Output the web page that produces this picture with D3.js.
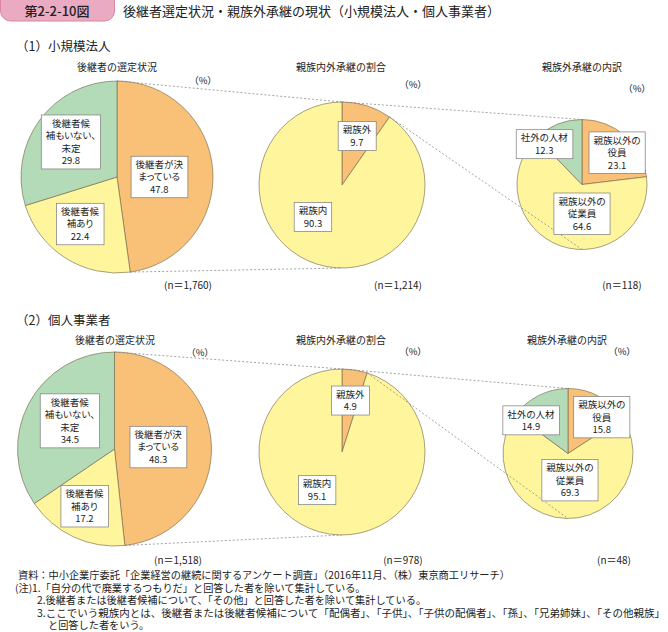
<!DOCTYPE html>
<html><head><meta charset="utf-8">
<script src="https://cdn.jsdelivr.net/npm/d3@7"></script>
<style>
body{margin:0;background:#fff;}
svg{display:block;font-family:"Noto Sans CJK JP","Noto Sans",sans-serif;}
.p{font-feature-settings:"palt";}
</style>
</head><body>
<svg id="c" width="668" height="632"></svg>
<script>
// ---------- data ----------
const figNo = "第2-2-10図";
const figTitle = "後継者選定状況・親族外承継の現状（小規模法人・個人事業者）";
const sections = ["（1）小規模法人", "（2）個人事業者"];
const chartTitles = ["後継者の選定状況", "親族内外承継の割合", "親族外承継の内訳"];

const selCats = ["後継者が決\nまっている", "後継者候\n補あり", "後継者候\n補もいない、\n未定"];
const selSmall = [47.8, 22.4, 29.8];
const selIndiv = [48.3, 17.2, 34.5];

const famCats = ["親族外", "親族内"];
const famSmall = [9.7, 90.3];
const famIndiv = [4.9, 95.1];

const outCats = ["親族以外の\n役員", "親族以外の\n従業員", "社外の人材"];
const outSmall = [23.1, 64.6, 12.3];
const outIndiv = [15.8, 69.3, 14.9];

const nSmall = ["1,760", "1,214", "118"];
const nIndiv = ["1,518", "978", "48"];

const notes = [
  "資料：中小企業庁委託「企業経営の継続に関するアンケート調査」（2016年11月、（株）東京商工リサーチ）",
  "(注)1.「自分の代で廃業するつもりだ」と回答した者を除いて集計している。",
  "2.後継者または後継者候補について、「その他」と回答した者を除いて集計している。",
  "3.ここでいう親族内とは、後継者または後継者候補について「配偶者」、「子供」、「子供の配偶者」、「孫」、「兄弟姉妹」、「その他親族」",
  "と回答した者をいう。"
];

// ---------- styles / layout ----------
const ORANGE = "#f9c078", YELLOW = "#fff59d", GREEN = "#b4dbb7";
const colorSets = [[ORANGE, YELLOW, GREEN], [ORANGE, YELLOW], [ORANGE, YELLOW, GREEN]];

const panels = [
  {
    section: sections[0], secY: 51,
    titleY: 71, titleX: [117, 341, 582],
    pctPos: [[203, 84], [413, 88], [637, 92]],
    nY: 289, nX: [188, 398, 622], n: nSmall,
    pies: [{cx:117, cy:177, r:96}, {cx:342, cy:185, r:83}, {cx:582, cy:184.5, r:65}],
    data: [selSmall, famSmall, outSmall],
    labelPos: [
      [[0.44, 0.0], [-0.385, 0.49], [-0.48, -0.365]],
      [[0.18, -0.59], [-0.35, 0.385]],
      [[0.54, -0.49], [0.0, 0.45], [-0.58, -0.62]]
    ]
  },
  {
    section: sections[1], secY: 325,
    titleY: 344, titleX: [115, 341, 567],
    pctPos: [[200, 356], [413, 355], [622, 355]],
    nY: 564, nX: [178, 403, 614], n: nIndiv,
    pies: [{cx:114.5, cy:449, r:97}, {cx:342, cy:452, r:83}, {cx:568, cy:453.5, r:65}],
    data: [selIndiv, famIndiv, outIndiv],
    labelPos: [
      [[0.45, -0.02], [-0.31, 0.59], [-0.46, -0.29]],
      [[0.1, -0.62], [-0.30, 0.46]],
      [[0.52, -0.56], [0.03, 0.41], [-0.57, -0.51]]
    ]
  }
];
const catSets = [selCats, famCats, outCats];

const svg = d3.select("#c");

// header tab
svg.append("rect").attr("x", 0.5).attr("y", -10).attr("width", 114).attr("height", 31)
  .attr("rx", 10).attr("fill", "#eaaac2").attr("stroke", "#d9869f").attr("stroke-width", 1);
svg.append("text").attr("x", 57).attr("y", 16).attr("text-anchor", "middle")
  .attr("font-size", 13).attr("font-weight", 500).attr("fill", "#222").text(figNo);
svg.append("text").attr("x", 123).attr("y", 16).attr("font-size", 13)
  .attr("fill", "#222").text(figTitle);

const pie = d3.pie().sort(null).value(d => d).startAngle(0).endAngle(2 * Math.PI);
const ptAt = (p, a) => [p.cx + p.r * Math.sin(a), p.cy - p.r * Math.cos(a)];

panels.forEach(pn => {
  svg.append("text").attr("x", 16).attr("y", pn.secY).attr("font-size", 12.5)
    .attr("fill", "#222").text(pn.section);

  const arcsAll = [];
  pn.pies.forEach((p, i) => {
    const g = svg.append("g").attr("transform", `translate(${p.cx},${p.cy})`);
    const arcs = pie(pn.data[i]);
    arcsAll.push(arcs);
    const arc = d3.arc().innerRadius(0).outerRadius(p.r);
    g.selectAll("path").data(arcs).join("path")
      .attr("d", arc).attr("fill", (d, j) => colorSets[i][j])
      .attr("stroke", "#6e6244").attr("stroke-width", 0.6);

    svg.append("text").attr("x", pn.titleX[i]).attr("y", pn.titleY).attr("text-anchor", "middle")
      .attr("font-size", 10).attr("fill", "#222").text(chartTitles[i]);
    svg.append("text").attr("x", pn.pctPos[i][0]).attr("y", pn.pctPos[i][1]).attr("text-anchor", "middle")
      .attr("font-size", 9.5).attr("fill", "#222").text("（%）");
    svg.append("text").attr("x", pn.nX[i]).attr("y", pn.nY).attr("text-anchor", "middle")
      .attr("font-size", 10).attr("fill", "#222").text("(n＝" + pn.n[i] + ")");
  });

  // connector dashed lines
  const segs = [
    [ptAt(pn.pies[0], 0), ptAt(pn.pies[1], 0)],
    [ptAt(pn.pies[0], arcsAll[0][0].endAngle), ptAt(pn.pies[1], Math.PI)],
    [ptAt(pn.pies[1], 0), ptAt(pn.pies[2], 0)],
    [ptAt(pn.pies[1], arcsAll[1][0].endAngle), ptAt(pn.pies[2], Math.PI)]
  ];
  svg.selectAll(null).data(segs).join("line")
    .attr("x1", d => d[0][0]).attr("y1", d => d[0][1])
    .attr("x2", d => d[1][0]).attr("y2", d => d[1][1])
    .attr("stroke", "#8c8c8c").attr("stroke-width", 0.8).attr("stroke-dasharray", "2,2");

  // labels
  pn.pies.forEach((p, i) => {
    arcsAll[i].forEach((a, j) => {
      const lines = catSets[i][j].split("\n").concat([a.data.toFixed(1)]);
      const lx = p.cx + p.r * pn.labelPos[i][j][0];
      const ly = p.cy + p.r * pn.labelPos[i][j][1];
      const lg = svg.append("g");
      const lh = 12.5;
      const fs = 9.5;
      const t = lg.append("text").attr("class", "p").attr("text-anchor", "middle")
        .attr("font-size", fs).attr("fill", "#222");
      lines.forEach((s, k) => {
        t.append("tspan").attr("x", lx)
          .attr("y", ly - (lines.length - 1) * lh / 2 + k * lh + fs * 0.36).text(s);
      });
      const bb = t.node().getBBox();
      lg.insert("rect", "text")
        .attr("x", bb.x - 4.5).attr("y", ly - (lines.length * lh) / 2 - 2)
        .attr("width", bb.width + 9).attr("height", lines.length * lh + 4)
        .attr("fill", "#fff").attr("stroke", "#7a7a7a").attr("stroke-width", 0.7);
    });
  });
});

// notes
const noteX = [18, 15, 37, 37, 48];
const noteY = [579, 591.5, 604, 616.5, 629];
notes.forEach((s, k) => {
  const t = svg.append("text").attr("x", noteX[k]).attr("y", noteY[k])
    .attr("font-size", 10.2).attr("fill", "#222").text(s);
  if (k === 3) t.attr("textLength", 628).attr("lengthAdjust", "spacingAndGlyphs");
});
</script>
</body></html>
